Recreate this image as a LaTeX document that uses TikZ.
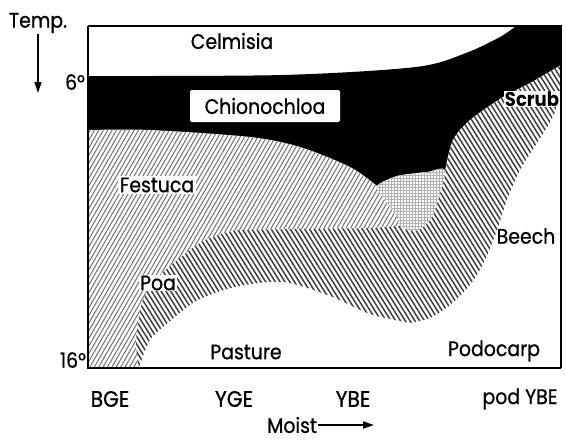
\documentclass[tikz,border=0pt]{standalone}
\usepackage{fontspec}
\setmainfont{Poppins}[FakeStretch=0.9, UprightFeatures={FakeBold=0.8}]
\usepackage{tikz}
\usetikzlibrary{arrows.meta}

\begin{document}
\begin{tikzpicture}[
  x=1pt, y=-1pt,
  lbl/.style={font=\fontsize{21}{24}\selectfont, inner sep=1pt},
  axis/.style={font=\fontsize{22.5}{26}\selectfont, inner sep=1pt},
  arr/.style={-{Triangle[length=11pt, width=7pt]}, line width=1.5pt},
  fwd/.style={line width=1pt, black!55},
  bwd/.style={line width=1.5pt, black!75},
  gridline/.style={line width=0.5pt, black!30}
]
  \useasboundingbox (0,0) rectangle (566,440);

  % Chionochloa band
  \fill[black] (88,76) -- plot[smooth] coordinates {(88,76) (283,75) (416,67) (466,53) (500,37) (516,26)}
    -- (561,26) -- (561,72)
    -- plot[smooth] coordinates {(561,72) (530,88) (503,102) (470,125) (453,145) (445,175)}
    -- plot[smooth] coordinates {(445,175) (427,177) (397,181) (377,191)}
    -- plot[smooth] coordinates {(377,191) (350,172) (300,152) (250,142) (150,135) (88,135)}
    -- cycle;

  % Festuca / Poa
  \begin{scope}
    \clip (88,368) -- (88,130)
      -- plot[smooth] coordinates {(88,130) (150,130) (250,137) (300,147) (350,167) (377,186)}
      -- plot[smooth] coordinates {(377,186) (383,197) (397,217) (400,226)}
      -- plot[smooth] coordinates {(400,226) (370,228) (300,229) (235,230)}
      -- plot[smooth] coordinates {(235,230) (205,240) (181,257) (155,280) (143,300) (138,323) (136,345) (139,368)}
      -- cycle;
    \fill[white] (0,0) rectangle (566,440);
    \foreach \i in {-120,-115.6,...,420}
      \draw[fwd] (\i,380) -- ++(150,-260);
  \end{scope}

  % Beech, Scrub and the lower band
  \begin{scope}
    \clip (139,368)
      -- plot[smooth] coordinates {(139,368) (136,345) (138,323) (143,300) (155,280) (181,257) (205,240) (235,230)}
      -- plot[smooth] coordinates {(235,230) (300,229) (370,228) (400,226) (407,230) (418,230)}
      -- plot[smooth] coordinates {(418,230) (430,220) (438,200) (445,170) (453,140) (470,120) (503,97) (530,83) (561,65)}
      -- (561,93)
      -- plot[smooth] coordinates {(561,93) (553,117) (537,143) (520,170) (507,200) (497,230) (485,260) (470,285) (450,305) (430,318) (410,323)}
      -- plot[smooth] coordinates {(410,323) (370,314) (330,296) (283,282) (235,287) (198,300) (175,317) (150,340) (139,368)}
      -- cycle;
    \fill[white] (0,0) rectangle (566,440);
    \foreach \i in {-100,-95.2,...,570}
      \draw[bwd] (\i,50) -- ++(200,320);
  \end{scope}

  % overlap
  \begin{scope}
    \clip plot[smooth cycle] coordinates {(377,186) (397,176) (427,172) (445,170) (438,200) (430,220) (418,230) (407,230) (400,226) (397,217) (383,197)};
    \fill[white] (370,160) rectangle (450,240);
    \foreach \i in {370,373,...,450}
      \draw[gridline] (\i,160) -- (\i,240);
    \foreach \j in {160,163,...,240}
      \draw[gridline] (370,\j) -- (450,\j);
  \end{scope}

  % frame
  \draw[line width=1.5pt] (88,26) -- (561,26) -- (561,368);
  \draw[line width=2.4pt] (88,26) -- (88,368) -- (561,368);

  % labels
  \node[lbl] (celmisia) at (232,41) {Celmisia};
  \node[lbl, fill=white, rounded corners=2pt, minimum width=150pt, minimum height=32pt] (chiono) at (265,106) {Chionochloa};
  \node[lbl, fill=white, inner sep=2pt] (festuca) at (157,185) {Festuca};
  \node[lbl, fill=white] (poa) at (158,283) {Poa};
  \node[lbl, font=\fontsize{20}{24}\selectfont\bfseries, fill=white, inner sep=0.5pt] (scrub) at (532,99) {Scrub};
  \node[lbl] (beech) at (526,236) {Beech};
  \node[lbl] (pasture) at (246,352) {Pasture};
  \node[lbl] (podocarp) at (494,351) {Podocarp};

  \node[lbl] (six) at (75,82) {6°};
  \node[lbl] (sixteen) at (73,360) {16°};
  \node[axis] (bge) at (110,399) {BGE};
  \node[axis] (yge) at (234,399) {YGE};
  \node[axis] (ybe) at (353,399) {YBE};
  \node[lbl] (podybe) at (520,399) {pod YBE};

  \node[lbl] (temp) at (38,23) {Temp.};
  \coordinate (tempend) at (38,93);
  \draw[arr] (temp) -- (tempend);
  \node[lbl] (moist) at (292,425) {Moist};
  \coordinate (moistend) at (374,425);
  \draw[arr] (moist) -- (moistend);
\end{tikzpicture}
\end{document}
